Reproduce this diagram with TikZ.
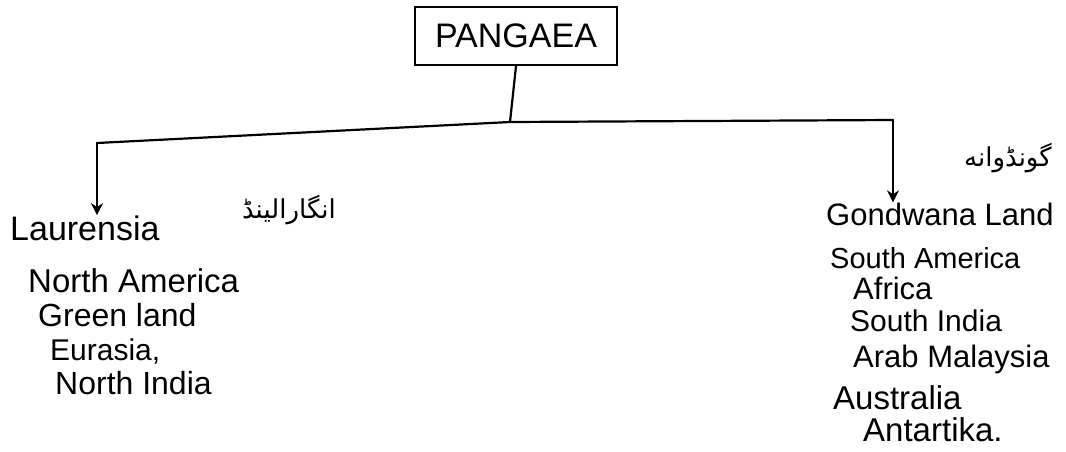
\documentclass[tikz,border=0pt]{standalone}
\usepackage{fontspec}
\setmainfont{Liberation Sans}
\newfontfamily\urdufont[Script=Arabic]{DejaVu Sans}
\TeXXeTstate=1
\usetikzlibrary{arrows.meta}
\begin{document}
\begin{tikzpicture}[x=1pt,y=-1pt,
  hand/.style={font=\fontsize{#1}{#1}\selectfont, inner sep=0pt, anchor=base west},
  hand/.default=30,
  urdu/.style={font=\urdufont\fontsize{26}{28}\selectfont, inner sep=0pt, anchor=base east},
  link/.style={line width=2.2pt, line cap=round, line join=round},
  arr/.style={link, -{Stealth[length=12pt,width=12pt]}},
  titlebox/.style={draw, line width=2.2pt, minimum width=202pt, minimum height=58pt, inner sep=0pt, font=\fontsize{34}{36}\selectfont}]
\useasboundingbox (0,0) rectangle (1066,451);
\node[titlebox] (p) at (516,36) {PANGAEA};
\coordinate (j) at (510,122);
\coordinate (lc) at (97,143);
\coordinate (rc) at (893,120);
\node[hand=34] (laur) at (10,240) {Laurensia};
\node[urdu] (laururdu) at (336,218) {\beginR انگارالینڈ\endR};
\node[hand=33] (na) at (28,292) {North America};
\node[hand=32] (gl) at (38,326) {Green land};
\node[hand=30] (eu) at (50,360) {Eurasia,};
\node[hand=32] (ni) at (55,394) {North India};
\node[urdu] (gondurdu) at (1052,166) {\beginR گونڈوانه\endR};
\node[hand=31] (gond) at (826,225) {Gondwana Land};
\node[hand=29] (sa) at (830,268) {South America};
\node[hand=31] (af) at (853,299) {Africa};
\node[hand=30] (si) at (850,331) {South India};
\node[hand=31] (am) at (853,367) {Arab Malaysia};
\node[hand=33] (au) at (833,409) {Australia};
\node[hand=33] (an) at (863,441) {Antartika.};
\draw[link] (p.south) -- (j);
\draw[link] (lc) -- (j) -- (rc);
\draw[arr] (lc) -- (lc |- laur.north);
\draw[arr] (rc) -- (rc |- gond.north);
\end{tikzpicture}
\end{document}
